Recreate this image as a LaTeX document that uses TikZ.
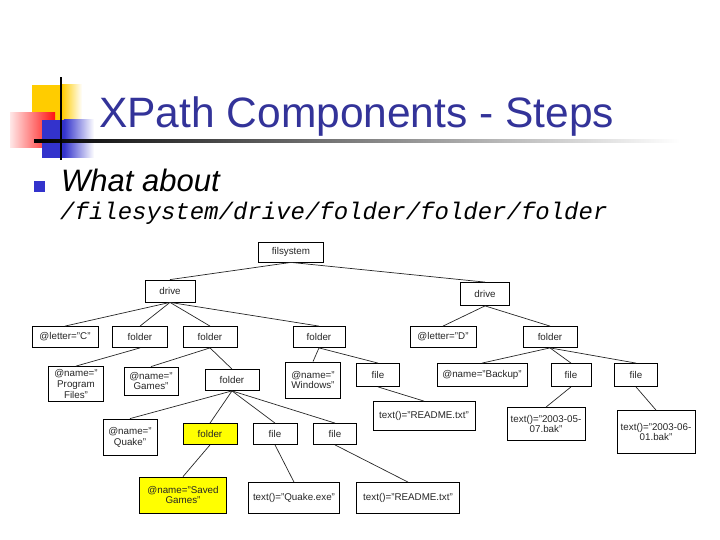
\documentclass[tikz,border=0pt]{standalone}
\usepackage{fontspec}
\setmainfont{Liberation Sans}
\setmonofont{Liberation Mono}
\usepackage{tikz}
\usetikzlibrary{positioning}
\definecolor{titleblue}{HTML}{333399}
\definecolor{bulletblue}{HTML}{3333CC}
\definecolor{decoyellow}{HTML}{FFCC00}
\definecolor{decored}{HTML}{FF1010}
\definecolor{decoblue}{HTML}{3333CC}
\definecolor{hlyellow}{HTML}{FFFF00}

\begin{document}
\begin{tikzpicture}[
  x=1pt, y=-1pt,
  tnode/.style={draw=black, fill=white, line width=0.8pt, align=center, inner sep=0pt, text=black!85, font=\fontsize{9.8}{10.8}\selectfont},
  hlnode/.style={tnode, fill=hlyellow},
  edge/.style={draw=black!85, line width=0.7pt}
]
\useasboundingbox (0,0) rectangle (720,540);

% Slide decoration
\fill[decoyellow] (32,85) rectangle (62,120);
\shade[left color=decoyellow, right color=white] (61.9,85) rectangle (82,120);
\shade[left color=decored!10, right color=decored] (10,113) rectangle (55,148);
\fill[decoblue] (42,120) rectangle (64,158);
\shade[left color=decoblue, right color=white] (63.9,120) rectangle (94,158);
\shade[left color=black, right color=white] (34,139.8) rectangle (680,142.2);
\fill[black] (59.8,77) rectangle (62.4,160);

% Title and bullet
\node[anchor=base west, inner sep=0pt, text=titleblue, font=\fontsize{42.5}{50}\selectfont] (title) at (99,128) {XPath Components - Steps};
\node[fill=bulletblue, minimum size=11pt, inner sep=0pt] (bullet) at (39,187) {};
\node[anchor=base west, inner sep=0pt, font=\fontsize{31}{36}\selectfont\itshape] (what) at (61,192) {What about};
\node[anchor=base west, inner sep=0pt, font=\fontsize{24}{28}\ttfamily\itshape] (path) at (60,219) {/filesystem/drive/folder/folder/folder};

% Row 1: root
\node[tnode, minimum width=65pt, minimum height=20pt] (fsys) at (291,252) {filsystem};

% Row 2: drives
\node[tnode, minimum width=50pt, minimum height=22pt] (driveC) at (170,291) {drive};
\node[tnode, minimum width=49pt, minimum height=23pt] (driveD) at (485,294) {drive};

% Row 3: letters and folders
\node[tnode, minimum width=66pt, minimum height=21pt] (letterC) at (65,337) {@letter="C"};
\node[tnode, minimum width=55pt, minimum height=21pt] (fldA) at (140,337) {folder};
\node[tnode, minimum width=54pt, minimum height=21pt] (fldB) at (210,337) {folder};
\node[tnode, minimum width=52pt, minimum height=21pt] (fldC) at (319,337) {folder};
\node[tnode, minimum width=66pt, minimum height=21pt] (letterD) at (443,337) {@letter="D"};
\node[tnode, minimum width=54pt, minimum height=21pt] (fldD) at (550,337) {folder};

% Row 4: names, folder and files
\node[tnode, minimum width=55pt, minimum height=35pt] (nameProg) at (76,384) {@name="\\Program\\Files"};
\node[tnode, minimum width=54pt, minimum height=28pt] (nameGames) at (151,381) {@name="\\Games"};
\node[tnode, minimum width=54pt, minimum height=21pt] (fldE) at (232,380) {folder};
\node[tnode, minimum width=55pt, minimum height=36pt] (nameWin) at (313,380) {@name="\\Windows"};
\node[tnode, minimum width=43pt, minimum height=23pt] (fileA) at (378,375) {file};
\node[tnode, minimum width=90pt, minimum height=23pt] (nameBackup) at (482,375) {@name="Backup"};
\node[tnode, minimum width=40pt, minimum height=23pt] (fileB) at (571,375) {file};
\node[tnode, minimum width=43pt, minimum height=23pt] (fileC) at (636,375) {file};

% Row 5
\node[tnode, minimum width=54pt, minimum height=36pt] (nameQuake) at (130,437) {@name="\\Quake"};
\node[hlnode, minimum width=54pt, minimum height=21pt] (fldF) at (210,434) {folder};
\node[tnode, minimum width=44pt, minimum height=21pt] (fileD) at (275,434) {file};
\node[tnode, minimum width=43pt, minimum height=21pt] (fileE) at (335,434) {file};
\node[tnode, minimum width=102pt, minimum height=29pt] (readmeA) at (424,416) {text()="README.txt"};
\node[tnode, minimum width=78pt, minimum height=33pt] (bakA) at (546,424) {text()="2003-05-\\07.bak"};
\node[tnode, minimum width=78pt, minimum height=43pt] (bakB) at (656,432) {text()="2003-06-\\01.bak"};

% Row 6
\node[hlnode, minimum width=87pt, minimum height=36pt] (nameSaved) at (183,495) {@name="Saved\\Games"};
\node[tnode, minimum width=91pt, minimum height=31pt] (quakeExe) at (294,498) {text()="Quake.exe"};
\node[tnode, minimum width=103pt, minimum height=31pt] (readmeB) at (408,498) {text()="README.txt"};

% Connectors
\foreach \p/\c in {fsys/driveC, fsys/driveD,
  driveC/letterC, driveC/fldA, driveC/fldB, driveC/fldC,
  driveD/letterD, driveD/fldD,
  fldA/nameProg, fldB/nameGames, fldB/fldE, fldC/nameWin, fldC/fileA,
  fldD/nameBackup, fldD/fileB, fldD/fileC,
  fileA/readmeA, fileB/bakA, fileC/bakB,
  fldE/nameQuake, fldE/fldF, fldE/fileD, fldE/fileE,
  fldF/nameSaved, fileD/quakeExe, fileE/readmeB}
  \draw[edge] (\p.south) -- (\c.north);

\end{tikzpicture}
\end{document}
